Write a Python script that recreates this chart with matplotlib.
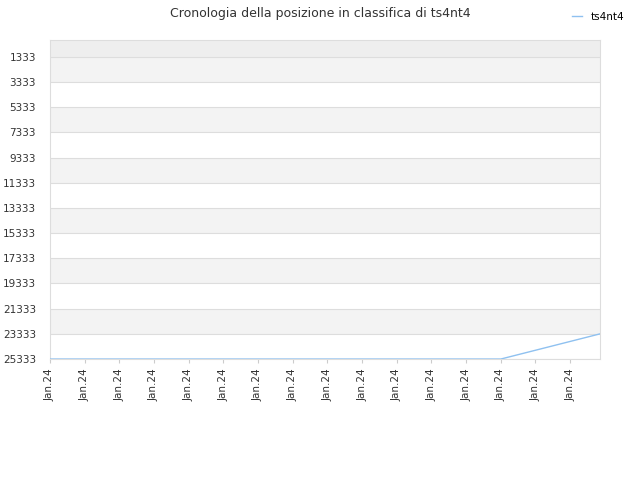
import matplotlib
matplotlib.use("Agg")
import matplotlib.pyplot as plt

x_idx = list(range(17))
ranks = [25333]*14 + [24634, 23935, 23236]
tick_labels = ["Jan.24"]*16
y_ticks = list(range(1333, 25334, 2000))

fig = plt.figure(figsize=(6.4, 4.8), dpi=100)
ax = fig.add_axes([0.078, 0.252, 0.8595, 0.665])
ax.set_ylim(25333, -17)
ax.set_xlim(0, 15.86)
ax.axhspan(-17, 1333, color="#eeeeee", zorder=0, lw=0)
for i, t in enumerate(y_ticks[:-1]):
    if i % 2 == 0:
        ax.axhspan(t, t+2000, color="#f3f3f3", zorder=0, lw=0)
for t in y_ticks:
    ax.axhline(t, color="#dddddd", lw=0.8, zorder=1)
ax.plot(x_idx, ranks, color="#8fc1f0", lw=1, label="ts4nt4", zorder=3)
ax.set_yticks(y_ticks)
ax.set_yticklabels([str(t) for t in y_ticks], fontsize=7.5, color="#333333")
ax.set_xticks(range(16))
ax.set_xticklabels(tick_labels, rotation=90, fontsize=7.5, color="#333333")
for s in ax.spines.values():
    s.set_color("#dddddd")
ax.tick_params(axis="y", length=0, pad=10)
ax.tick_params(axis="x", length=3, color="#cccccc")
fig.text(0.5, 0.985, "Cronologia della posizione in classifica di ts4nt4", ha="center", va="top", fontsize=9, color="#333333")
fig.legend(loc="upper right", bbox_to_anchor=(0.99, 0.995), frameon=False, fontsize=7.5, handlelength=1)
fig.savefig("out.png")
